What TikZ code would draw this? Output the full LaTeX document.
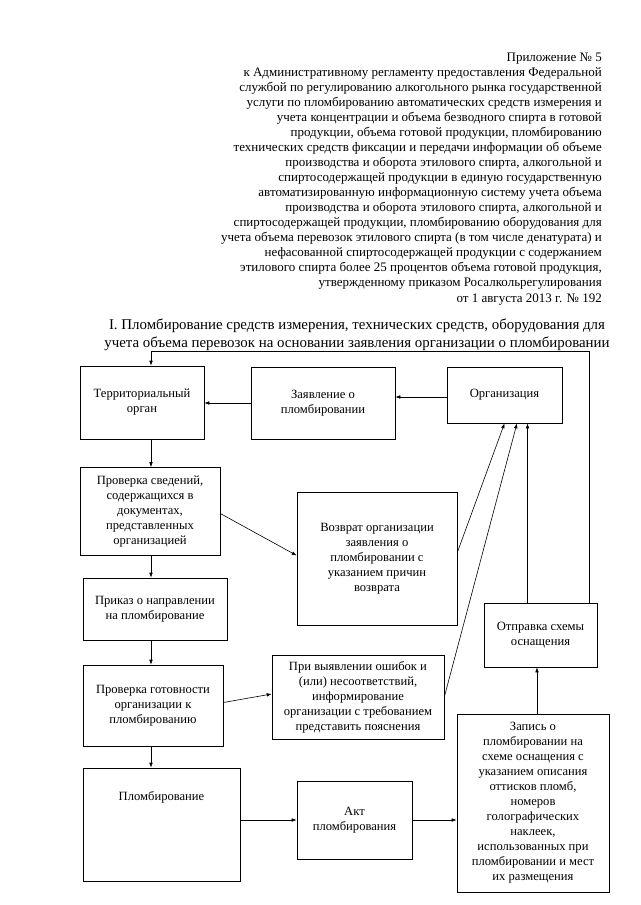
\documentclass[tikz,border=0pt]{standalone}
\usepackage{fontspec}
\setmainfont{Liberation Serif}
\usetikzlibrary{arrows.meta}

\tikzset{
  blok/.style={draw, line width=0.6pt, align=center, inner sep=2pt, font=\fontsize{12.6}{15}\selectfont},
  strelka/.style={-{Latex[length=5pt,width=3.6pt]}, line width=0.6pt},
}

\begin{document}
\begin{tikzpicture}[x=1pt,y=-1pt]
            \useasboundingbox (0,0) rectangle (640,905);
            % шапка и заголовок
            \node[anchor=north east, align=right, inner sep=0pt, font=\fontsize{13}{15.05}\selectfont] (shapka) at (602,52.5) {Приложение № 5\\
к Административному регламенту предоставления Федеральной\\
службой по регулированию алкогольного рынка государственной\\
услуги по пломбированию автоматических средств измерения и\\
учета концентрации и объема безводного спирта в готовой\\
продукции, объема готовой продукции, пломбированию\\
технических средств фиксации и передачи информации об объеме\\
производства и оборота этилового спирта, алкогольной и\\
спиртосодержащей продукции в единую государственную\\
автоматизированную информационную систему учета объема\\
производства и оборота этилового спирта, алкогольной и\\
спиртосодержащей продукции, пломбированию оборудования для\\
учета объема перевозок этилового спирта (в том числе денатурата) и\\
нефасованной спиртосодержащей продукции с содержанием\\
этилового спирта более 25 процентов объема готовой продукция,\\
утвержденному приказом Росалкольрегулирования\\
от 1 августа 2013 г. № 192};
            \node[align=center, font=\fontsize{14.9}{18}\selectfont] (zagolovok) at (357,335) {I. Пломбирование средств измерения, технических средств, оборудования для\\
учета объема перевозок на основании заявления организации о пломбировании};

            % блоки
            \node[blok, minimum width=124, minimum height=73] (terr) at (142,402.5) {Территориальный\\орган};
            \node[blok, minimum width=144, minimum height=72] (zayav) at (323,403) {Заявление о\\пломбировании};
            \node[blok, minimum width=115, minimum height=56] (org) at (504.5,395) {Организация};
            \node[blok, minimum width=140, minimum height=88] (proverka1) at (150,511.5) {Проверка сведений,\\содержащихся в\\документах,\\представленных\\организацией};
            \node[blok, minimum width=160, minimum height=133] (vozvrat) at (377,558.5) {Возврат организации\\заявления о\\пломбировании с\\указанием причин\\возврата};
            \node[blok, minimum width=144, minimum height=62] (prikaz) at (155,609) {Приказ о направлении\\на пломбирование};
            \node[blok, minimum width=113, minimum height=64] (otpravka) at (540.5,635) {Отправка схемы\\оснащения};
            \node[blok, minimum width=140, minimum height=81] (proverka2) at (153,705.5) {Проверка готовности\\организации к\\пломбированию};
            \node[blok, minimum width=172, minimum height=84] (vyyavl) at (358,697) {При выявлении ошибок и\\(или) несоответствий,\\информирование\\организации с требованием\\представить пояснения};
            \node[blok, minimum width=157, text height=30, text depth=79] (plomb) at (161.5,824.5) {Пломбирование};
            \node[blok, minimum width=115, minimum height=78] (akt) at (354.5,820) {Акт\\пломбирования};
            \node[blok, minimum width=152, minimum height=178] (zapis) at (533,803) {Запись о\\пломбировании на\\схеме оснащения с\\указанием описания\\оттисков пломб,\\номеров\\голографических\\наклеек,\\использованных при\\пломбировании и мест\\их размещения};

            \coordinate (os) at (151,0);
            \coordinate (verh) at (589,351);

            % связи
            \draw[strelka] (terr.south -| os) -- (proverka1.north -| os);
            \draw[strelka] (proverka1.south -| os) -- (prikaz.north -| os);
            \draw[strelka] (prikaz.south -| os) -- (proverka2.north -| os);
            \draw[strelka] (proverka2.south -| os) -- (plomb.north -| os);
            \draw[strelka] ([yshift=-2]org.west) -- ([yshift=-2]org.west -| zayav.east);
            \draw[strelka] (zayav.west) -- (zayav.west -| terr.east);
            \draw[strelka] ([yshift=-2]proverka1.east) -- ([yshift=3]vozvrat.west);
            \draw[strelka] ([yshift=3]proverka2.east) -- ([yshift=3]vyyavl.west);
            \draw[strelka] ([yshift=6]vozvrat.east) -- (org.south);
            \draw[strelka] (vyyavl.east) -- ([xshift=12.5]org.south);
            \draw[strelka] ([xshift=-13]otpravka.north) -- ([xshift=-13]otpravka.north |- org.south);
            \draw[strelka] (otpravka.north -| verh) -- (verh) -| (terr.north -| os);
            \draw[strelka] ([yshift=4.5]plomb.east) -- ([yshift=4.5]plomb.east -| akt.west);
            \draw[strelka] (akt.east) -- (akt.east -| zapis.west);
            \draw[strelka] ([xshift=4]zapis.north) -- ([xshift=4]zapis.north |- otpravka.south);

        \end{tikzpicture}
\end{document}
